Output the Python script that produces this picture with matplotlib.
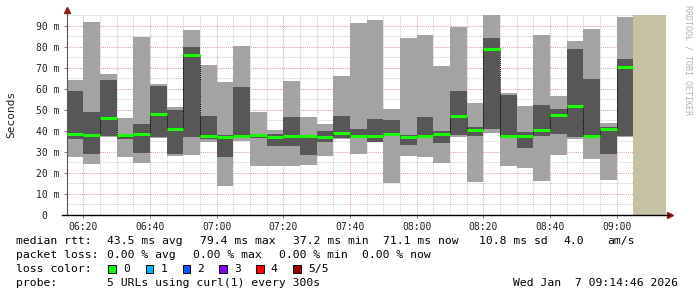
import numpy as np
import matplotlib
matplotlib.use("Agg")
import matplotlib.pyplot as plt
from matplotlib.patches import Rectangle

# smokeping style chart: 5 pings per 5-minute step, values in ms
start_min = 6 * 60 + 15   # 06:15
step = 5
now_min = 9 * 60 + 14 + 46 / 60.0   # 09:14:46

ping_min = [27.8, 24.4, 37.1, 27.8, 24.9, 36.8, 28.1, 28.7, 34.9, 14.0, 35.2, 23.5,
            23.5, 23.5, 24.0, 28.3, 36.2, 29.0, 34.8, 15.2, 28.3, 27.8, 24.9, 37.1,
            15.7, 39.2, 23.5, 22.5, 16.3, 28.7, 36.3, 26.8, 16.8, 37.3]
ping_lo = [36.2, 29.0, 37.6, 36.2, 29.7, 37.3, 29.0, 37.3, 36.3, 27.8, 37.0, 36.7,
           33.0, 33.0, 28.7, 34.8, 36.7, 36.5, 34.8, 37.6, 33.5, 37.0, 34.4, 38.1,
           37.6, 41.0, 36.8, 32.1, 37.6, 38.7, 37.1, 37.1, 29.2, 37.8]
ping_med = [38.7, 37.9, 46.2, 38.1, 38.6, 47.9, 41.1, 76.3, 37.6, 37.3, 37.6, 37.9,
            37.0, 37.6, 37.6, 37.3, 39.0, 37.6, 37.6, 38.4, 37.3, 37.8, 38.6, 47.1,
            40.6, 79.2, 37.6, 37.6, 40.5, 47.6, 51.9, 37.6, 41.1, 70.6]
ping_hi = [59.0, 49.0, 64.3, 38.1, 43.3, 61.4, 50.0, 80.0, 47.1, 38.2, 61.0, 38.7,
           38.7, 46.7, 38.2, 40.0, 47.1, 41.0, 45.7, 45.2, 37.9, 46.7, 40.0, 59.0,
           41.9, 84.3, 57.1, 39.5, 52.4, 50.5, 79.0, 64.8, 41.9, 74.3]
ping_max = [64.3, 91.7, 67.1, 46.2, 84.9, 62.4, 51.4, 88.1, 71.4, 63.3, 80.5, 49.0,
            40.3, 63.8, 46.7, 43.3, 66.2, 91.4, 92.9, 50.5, 84.3, 85.7, 71.0, 89.5,
            53.3, 95.2, 58.1, 51.9, 85.7, 56.7, 82.9, 88.6, 43.8, 94.3]

x_ticks = ["06:20", "06:40", "07:00", "07:20", "07:40", "08:00", "08:20", "08:40", "09:00"]
y_ticks = ["0  ", "10 m", "20 m", "30 m", "40 m", "50 m", "60 m", "70 m", "80 m", "90 m"]

loss_labels = ["0", "1", "2", "3", "4", "5/5"]
loss_colors = ["#00ff00", "#00b8ff", "#0059ff", "#7e00ff", "#ff0000", "#a10000"]

W, H = 697, 297
MONO = "DejaVu Sans Mono"

def px(x, y):
    return x / W, 1 - y / H

t = start_min + step * np.arange(len(ping_med))
x_lo, x_hi = start_min, start_min + 180
y_top = 95.2

fig = plt.figure(figsize=(W / 100, H / 100), dpi=100)
ax = fig.add_axes([66.7 / W, (H - 215) / H, 600 / W, 200 / H])
ax.set_xlim(x_lo, x_hi)
ax.set_ylim(0, y_top)

# grid (minor grey, major pink), dotted
dots = (0, (1, 1))
for xm in np.arange(x_lo + 5, x_hi + 1, 5):
    major = (xm - 380) % 20 == 0
    ax.axvline(xm, color="#e2a3a3" if major else "#cfcfcf", lw=0.75, ls=dots, zorder=0)
for ym in np.arange(5, y_top, 5):
    major = ym % 10 == 0
    ax.axhline(ym, color="#e2a3a3" if major else "#cfcfcf", lw=0.75, ls=dots, zorder=0)

# smoke
ax.bar(t, np.array(ping_max) - np.array(ping_min), bottom=ping_min, width=step,
       align="edge", color="#a3a3a3", lw=0, zorder=2)
ax.bar(t, np.array(ping_hi) - np.array(ping_lo), bottom=ping_lo, width=step,
       align="edge", color="#575757", lw=0, zorder=3)

# median line
ax.hlines(ping_med, t, t + step, color="#1cfc00", lw=2.2, zorder=5)
ax.vlines(t[1:], ping_med[:-1], ping_med[1:], color="black", lw=0.7, ls=dots, zorder=4)

# no data yet
ax.axvspan(t[-1] + step, now_min, color="#c4c2a2", lw=0, zorder=2)

ax.set_xticks(380 + 20 * np.arange(len(x_ticks)))
ax.set_xticklabels(x_ticks, family=MONO, fontsize=7, color="#222222")
ax.set_yticks(10 * np.arange(len(y_ticks)))
ax.set_yticklabels(y_ticks, family=MONO, fontsize=7, color="#222222")
ax.tick_params(axis="both", length=2, width=0.6, color="#666666", pad=3)

for s in ["top", "right"]:
    ax.spines[s].set_visible(False)
ax.spines["left"].set_color("#555555")
ax.spines["left"].set_linewidth(0.8)
ax.spines["bottom"].set_visible(False)
ax.plot([-0.008, 1.004], [0, 0], transform=ax.transAxes, color="black", lw=1.0,
        clip_on=False, zorder=6)
ax.plot([0, 0], [1.0, 1.02], transform=ax.transAxes, color="#555555", lw=0.8, clip_on=False)
ax.plot(0, 1.025, marker="^", ms=4, color="#8b1c1c", transform=ax.transAxes, clip_on=False)
ax.plot(1.006, 0, marker=">", ms=4, color="#8b1c1c", transform=ax.transAxes, clip_on=False)

fig.text(*px(11, 114), "Seconds", rotation=90, ha="center", va="center",
         family=MONO, fontsize=8, color="#222222")
fig.text(*px(688, 5), "RRDTOOL / TOBI OETIKER", rotation=270, ha="center", va="top",
         family=MONO, fontsize=6, color="#b4b4b4")

# legend / info lines
fs = 8.2
rows = [
    (241, [(16, "median rtt:"), (107, "43.5 ms avg"), (200, "79.4 ms max"), (293, "37.2 ms min"),
           (383, "71.1 ms now"), (479, "10.8 ms sd"), (563, "4.0"), (607, "am/s")]),
    (255, [(16, "packet loss:"), (107, "0.00 % avg"), (193, "0.00 % max"), (279, "0.00 % min"),
           (362, "0.00 % now")]),
    (269, [(16, "loss color:")]),
    (283, [(16, "probe:"), (107, "5 URLs using curl(1) every 300s"), (513, "Wed Jan  7 09:14:46 2026")]),
]
for y, items in rows:
    for x, s in items:
        fig.text(*px(x, y), s, ha="left", va="center", family=MONO, fontsize=fs, color="black")

box_x = [108.3, 145.7, 182.7, 219.3, 256, 293.3]
for bx, lab, c in zip(box_x, loss_labels, loss_colors):
    fig.patches.append(Rectangle(px(bx, 272.5), 7.5 / W, 8 / H, transform=fig.transFigure,
                                 facecolor=c, edgecolor="black", lw=0.7))
    fig.text(*px(bx + 14.5, 269), lab, ha="left", va="center", family=MONO, fontsize=fs, color="black")

fig.savefig("out.png", dpi=100)
